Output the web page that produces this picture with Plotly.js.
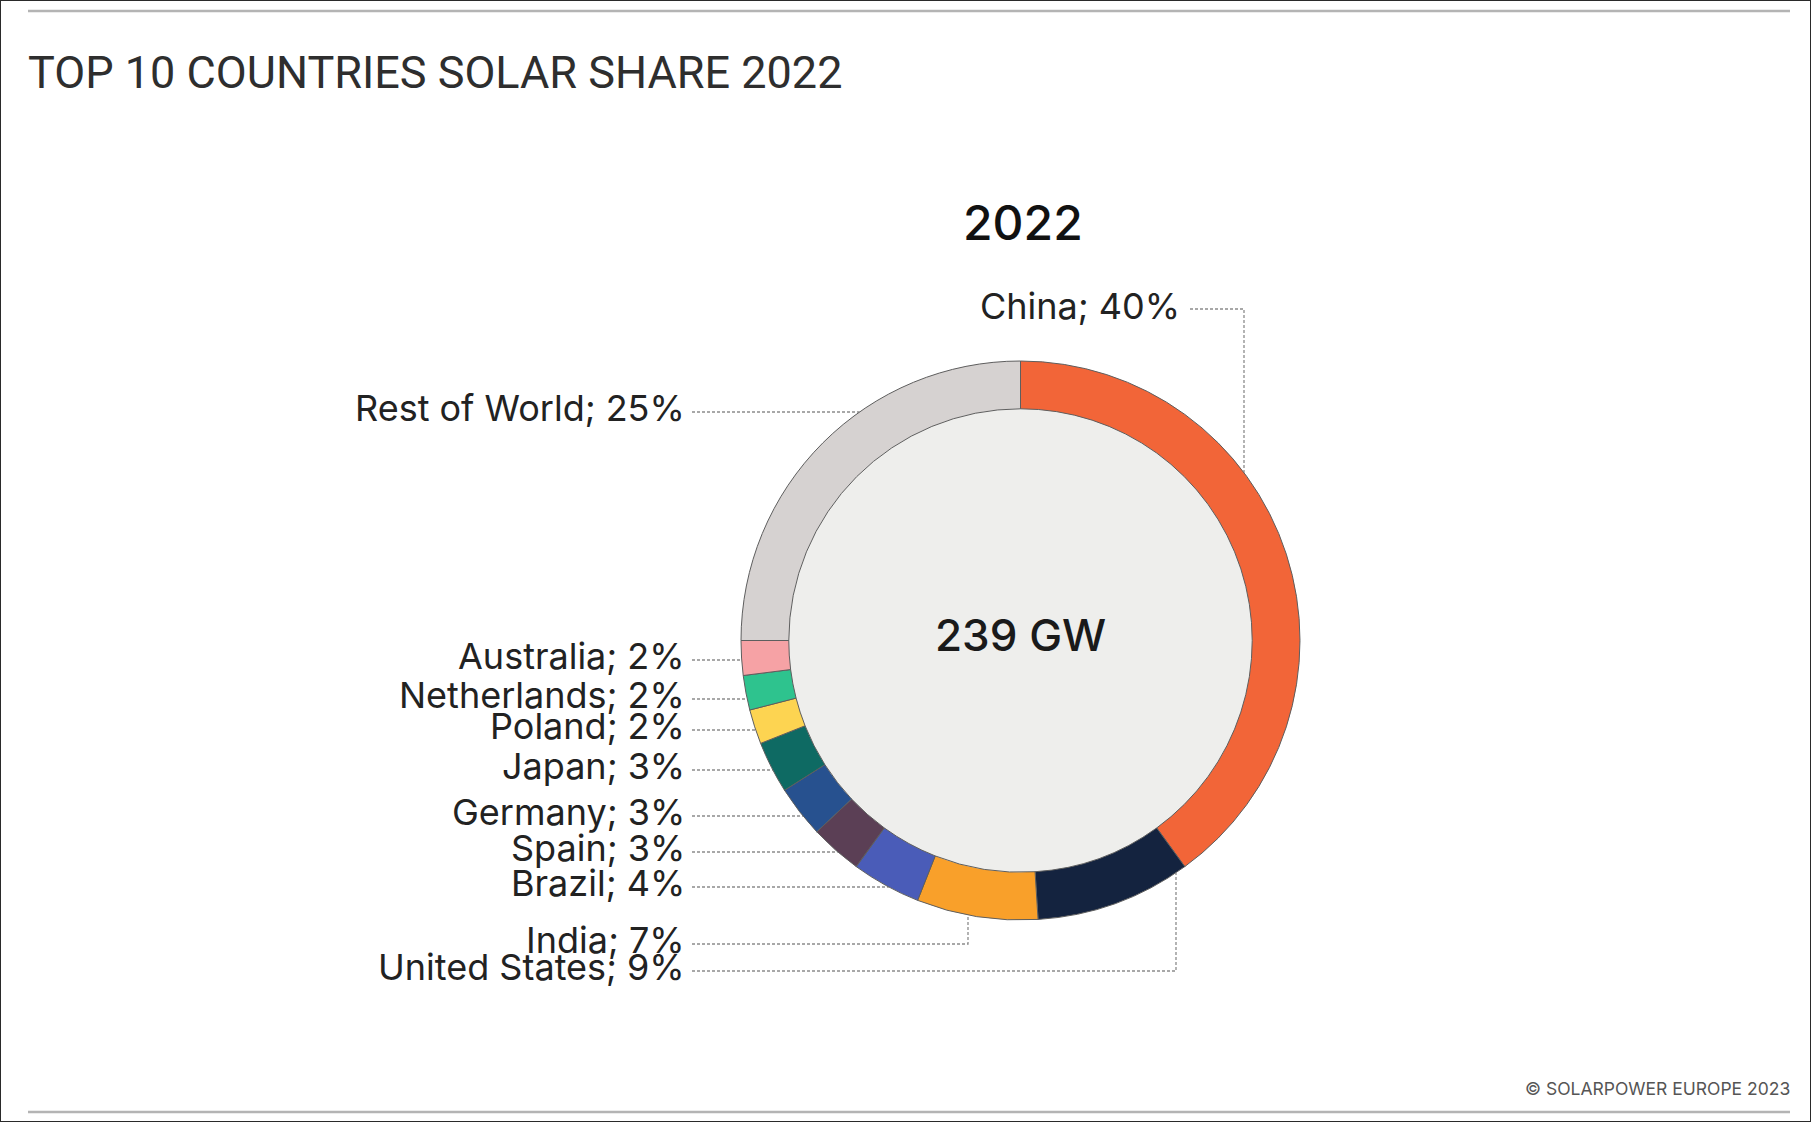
<!DOCTYPE html>
<html>
<head>
<meta charset="utf-8">
<script src="https://cdn.plot.ly/plotly-3.0.1.min.js"></script>
<style>html,body{margin:0;padding:0;background:#fff;}#chart{width:1811px;height:1122px;}</style>
</head>
<body>
<div id="chart"></div>
<script>
// ---- data ----
const countries = ['China','United States','India','Brazil','Spain','Germany','Japan','Poland','Netherlands','Australia','Rest of World'];
const shares = [40, 9, 7, 4, 3, 3, 3, 2, 2, 2, 25];
const totalLabel = '239 GW';
const yearLabel = '2022';
const chartTitle = 'TOP 10 COUNTRIES SOLAR SHARE 2022';
const sourceNote = '© SOLARPOWER EUROPE 2023';

// ---- styles ----
const sliceColors = ['#F26538','#14233F','#F9A02A','#4A5CB8','#5B3F55','#27518F','#0E6A63','#FDD451','#2EC38E','#F6A2A5','#D6D2D1'];

// ---- layout geometry (pixels) ----
const W = 1811, H = 1122;
const cx = 1020.5, cy = 640.5, R = 279.5, holeFrac = 0.829;
const px = x => x / W, py = y => 1 - y / H;
const labelRight = 687, leaderStart = 692;
const labelFont = {family: 'Inter, Roboto, sans-serif', size: 36, color: '#222'};
// label placement: leader y (and elbow x) per country
const placement = {
  'China':         {kind: 'down', y: 309, x: 1244, textRight: 1182},
  'Rest of World': {kind: 'left', y: 412},
  'Australia':     {kind: 'left', y: 660},
  'Netherlands':   {kind: 'left', y: 699},
  'Poland':        {kind: 'left', y: 730},
  'Japan':         {kind: 'left', y: 770},
  'Germany':       {kind: 'left', y: 816},
  'Spain':         {kind: 'left', y: 852},
  'Brazil':        {kind: 'left', y: 887},
  'India':         {kind: 'up',   y: 944, x: 968},
  'United States': {kind: 'up',   y: 971, x: 1176}
};

const leaderLine = {color: '#8c8c8c', width: 1.3, dash: '3px,2px'};
const shapes = [];
const annotations = [];

countries.forEach((c, i) => {
  const p = placement[c];
  const text = c + '; ' + shares[i] + '%';
  if (p.kind === 'left') {
    const rx = cx - Math.sqrt(R * R - (p.y - cy) * (p.y - cy));
    shapes.push({type: 'path', xref: 'paper', yref: 'paper', layer: 'below',
      path: `M${px(leaderStart)},${py(p.y)} L${px(rx)},${py(p.y)}`, line: leaderLine});
    annotations.push({x: px(labelRight), y: py(p.y - 4), xref: 'paper', yref: 'paper', xanchor: 'right', yanchor: 'middle', showarrow: false, text: text, font: labelFont});
  } else if (p.kind === 'up') {
    const ry = cy + Math.sqrt(R * R - (p.x - cx) * (p.x - cx));
    shapes.push({type: 'path', xref: 'paper', yref: 'paper', layer: 'below',
      path: `M${px(leaderStart)},${py(p.y)} L${px(p.x)},${py(p.y)} L${px(p.x)},${py(ry)}`, line: leaderLine});
    annotations.push({x: px(labelRight), y: py(p.y - 4), xref: 'paper', yref: 'paper', xanchor: 'right', yanchor: 'middle', showarrow: false, text: text, font: labelFont});
  } else {
    const ry = cy - Math.sqrt(R * R - (p.x - cx) * (p.x - cx));
    shapes.push({type: 'path', xref: 'paper', yref: 'paper', layer: 'below',
      path: `M${px(p.textRight + 8)},${py(p.y)} L${px(p.x)},${py(p.y)} L${px(p.x)},${py(ry)}`, line: leaderLine});
    annotations.push({x: px(p.textRight), y: py(p.y - 3), xref: 'paper', yref: 'paper', xanchor: 'right', yanchor: 'middle', showarrow: false, text: text, font: labelFont});
  }
});

// hole fill
const rh = R * holeFrac;
shapes.push({type: 'circle', xref: 'paper', yref: 'paper', layer: 'below',
  x0: px(cx - rh), x1: px(cx + rh), y0: py(cy + rh), y1: py(cy - rh),
  fillcolor: '#EEEEEC', line: {width: 0}});
// rules and frame
shapes.push({type: 'line', xref: 'paper', yref: 'paper', x0: px(28), x1: px(1790), y0: py(11), y1: py(11), line: {color: '#b4b4b4', width: 2.5}});
shapes.push({type: 'line', xref: 'paper', yref: 'paper', x0: px(28), x1: px(1790), y0: py(1112), y1: py(1112), line: {color: '#b4b4b4', width: 2.5}});
shapes.push({type: 'rect', xref: 'paper', yref: 'paper', x0: 0, x1: 1, y0: 0, y1: 1, line: {color: '#2a2a2a', width: 2}});

annotations.push({x: px(cx), y: py(635), xref: 'paper', yref: 'paper', xanchor: 'center', yanchor: 'middle', showarrow: false, text: totalLabel, font: {family: 'Inter, Roboto, sans-serif', size: 44, color: '#1a1a1a', weight: 500}});
annotations.push({x: px(1023), y: py(223), xref: 'paper', yref: 'paper', xanchor: 'center', yanchor: 'middle', showarrow: false, text: yearLabel, font: {family: 'Inter, Roboto, sans-serif', size: 48, color: '#111', weight: 500}});
annotations.push({x: px(1792), y: py(1088), xref: 'paper', yref: 'paper', xanchor: 'right', yanchor: 'middle', showarrow: false, text: sourceNote, font: {family: 'Inter, Roboto, sans-serif', size: 17.5, color: '#555'}});

const trace = {
  type: 'pie', values: shares, labels: countries, sort: false, direction: 'clockwise', rotation: 0,
  hole: holeFrac, textinfo: 'none', hoverinfo: 'label+percent', showlegend: false,
  marker: {colors: sliceColors, line: {color: '#5e5e5e', width: 1}},
  domain: {x: [px(cx - R), px(cx + R)], y: [py(cy + R), py(cy - R)]}
};

const layout = {
  width: W, height: H, margin: {l: 0, r: 0, t: 0, b: 0},
  paper_bgcolor: '#ffffff', plot_bgcolor: '#ffffff',
  title: {text: chartTitle, x: px(28), xanchor: 'left', xref: 'paper', y: py(72), yref: 'container', yanchor: 'middle',
    font: {family: 'Roboto, sans-serif', size: 45, color: '#2e2e2e'}},
  shapes: shapes, annotations: annotations, showlegend: false
};

Plotly.newPlot('chart', [trace], layout, {displayModeBar: false, staticPlot: true});
</script>
</body>
</html>
